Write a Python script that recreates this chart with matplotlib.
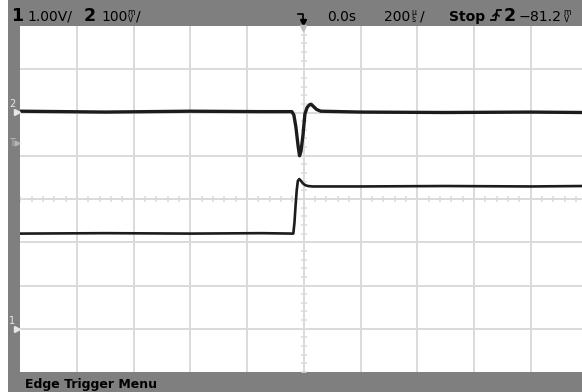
import numpy as np
import matplotlib
matplotlib.use("Agg")
import matplotlib.pyplot as plt

#--- Scope settings
time_per_div_us = 200
ch1_volts_per_div = 1.00
ch2_mv_per_div = 100
ch1_ground_div = -3.0
ch2_ground_div = 2.02

#--- Channel 2 (upper trace), mV
ch2_time_us = [-1000, -700, -400, -150, -42, -35, -28, -20, -15, -10, -3, 4, 12, 20, 26, 34, 45, 60, 200, 500, 800, 982]
ch2_mv = [1, -1, 1, 0, 0, -8, -35, -80, -102, -92, -55, -5, 10, 16, 17, 12, 5, 1, -1, -2, -1, -2]

#--- Channel 1 (lower trace), V
ch1_time_us = [-1000, -700, -400, -150, -37, -33, -29, -25, -21, -16, -10, -3, 5, 15, 30, 200, 500, 800, 982]
ch1_volts = [2.2, 2.21, 2.2, 2.21, 2.2, 2.45, 2.85, 3.2, 3.42, 3.46, 3.42, 3.36, 3.32, 3.30, 3.29, 3.29, 3.30, 3.29, 3.30]

W, H = 582, 392
frame_grey = "#7f7f7f"
grid_grey = "#dadada"
trace_col = "#1c1c1c"

fig = plt.figure(figsize=(W / 100, H / 100), dpi=100, facecolor=frame_grey)

#--- plot area in pixels
left_px, right_px, top_px, bot_px = 20.3, 582, 26, 372
div_px = 56.7
ax = fig.add_axes([left_px / W, (H - bot_px) / H, (right_px - left_px) / W, (bot_px - top_px) / H])
ax.set_facecolor("white")
x_right = (right_px - left_px) / div_px * time_per_div_us - 5 * time_per_div_us
ax.set_xlim(-5 * time_per_div_us, x_right)
ax.set_ylim(-4, 4)
for s in ax.spines.values():
    s.set_visible(False)
ax.set_xticks(np.arange(-4, 5) * time_per_div_us)
ax.set_yticks(np.arange(-3, 4))
ax.tick_params(length=0, labelbottom=False, labelleft=False)
ax.grid(True, color=grid_grey, lw=1.4, zorder=0)
ax.set_axisbelow(True)

#--- minor ticks along the centre lines
minor_x = np.arange(-25, 25) * time_per_div_us / 5
minor_y = np.arange(-20, 21) / 5
ax.plot(minor_x, np.zeros_like(minor_x), ls="none", marker="|", ms=5, mew=1.1, color=grid_grey, zorder=1)
ax.plot(np.zeros_like(minor_y), minor_y, ls="none", marker="_", ms=5, mew=1.1, color=grid_grey, zorder=1)

#--- traces
ch2_y = ch2_ground_div + np.array(ch2_mv) / ch2_mv_per_div
ch1_y = ch1_ground_div + np.array(ch1_volts) / ch1_volts_per_div
ax.plot(ch2_time_us, ch2_y, color=trace_col, lw=2.4, solid_joinstyle="round", zorder=3)
ax.plot(ch1_time_us, ch1_y, color=trace_col, lw=1.9, solid_joinstyle="round", zorder=3)

#--- overlay in pixel coordinates for the screen furniture
ov = fig.add_axes([0, 0, 1, 1], facecolor="none")
ov.set_xlim(0, W)
ov.set_ylim(H, 0)
ov.axis("off")
ov.add_patch(plt.Rectangle((0, 0), 8, H, color="white", lw=0))

txt = dict(color="black", va="baseline", ha="left")
stack = dict(color="black", va="center", ha="left", fontsize=8)
ov.text(11, 21, "1", fontsize=12.5, fontweight="bold", **txt)
ov.text(27, 20.5, "1.00V/", fontsize=10, **txt)
ov.text(84, 21, "2", fontsize=12.5, fontweight="bold", **txt)
ov.text(101, 20.5, "100", fontsize=10, **txt)
ov.text(127, 16, r"$^{\mathrm{m}}_{\mathrm{V}}$", **stack)
ov.text(136, 20.5, "/", fontsize=10, **txt)

#--- time reference marker
ov.plot([298, 303, 303], [14, 14, 21], color="black", lw=1.2)
ov.plot([303], [22], marker="v", ms=4, color="black")
ov.plot([303], [28], marker="v", ms=5, color="#bdbdbd")

ov.text(327, 20.5, "0.0s", fontsize=10, **txt)
ov.text(384, 20.5, "200", fontsize=10, **txt)
ov.text(411, 16, r"$^{\mathrm{\mu}}_{\mathrm{s}}$", **stack)
ov.text(420, 20.5, "/", fontsize=10, **txt)
ov.text(449, 20.5, "Stop", fontsize=10, fontweight="bold", **txt)

#--- rising edge trigger symbol
ov.plot([491, 495.5, 497, 501], [20, 20, 10, 10], color="black", lw=1.3)
ov.plot([493, 496, 499], [16, 13.5, 16], color="black", lw=1.1)
ov.text(504, 21, "2", fontsize=12.5, fontweight="bold", **txt)
ov.text(519, 20.5, "\u221281.2", fontsize=10.2, **txt)
ov.text(563, 16, r"$^{\mathrm{m}}_{\mathrm{V}}$", **stack)

#--- left side markers
mark_col = "#e8e8e8"
ch2_mark_y = top_px + (4 - ch2_ground_div) * (bot_px - top_px) / 8
ch1_mark_y = top_px + (4 - ch1_ground_div) * (bot_px - top_px) / 8
ov.text(9, ch2_mark_y - 5, "2", fontsize=7, color=mark_col, va="baseline")
ov.plot([16.5], [ch2_mark_y], marker=">", ms=4, color=mark_col)
ov.text(9, 146, "T", fontsize=7, color="#b4b4b4", va="baseline")
ov.plot([16.5], [143], marker=">", ms=3.5, color="#b4b4b4")
ov.text(9, ch1_mark_y - 5, "1", fontsize=7, color=mark_col, va="baseline")
ov.plot([16.5], [ch1_mark_y], marker=">", ms=4, color=mark_col)

ov.text(25, 388, "Edge Trigger Menu", fontsize=9, fontweight="bold", **txt)

fig.savefig("out.png", dpi=100, facecolor=frame_grey)
